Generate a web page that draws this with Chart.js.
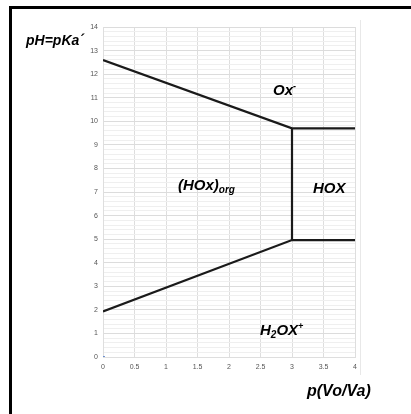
<!DOCTYPE html>
<html>
<head>
<meta charset="utf-8">
<script src="https://cdn.jsdelivr.net/npm/chart.js@4/dist/chart.umd.min.js"></script>
<style>
  html, body { margin: 0; padding: 0; background: #fff; }
  #wrap { position: relative; width: 411px; height: 414px; overflow: hidden; }
  .lbl {
    position: absolute;
    font-family: "Liberation Sans", Arial, sans-serif;
    font-weight: bold;
    font-style: italic;
    font-size: 15px;
    color: #000;
    white-space: nowrap;
    line-height: 1;
    transform: translateY(-50%);
  }
  .lbl sub { font-size: 10px; vertical-align: -3px; }
  .lbl sup { font-size: 9px; vertical-align: 6px; }
</style>
</head>
<body>
<div id="wrap">
  <canvas id="chart" width="411" height="414"></canvas>
  <div class="lbl" style="left:26px; top:40px; font-size:14px;">pH=pKa´</div>
  <div class="lbl" style="left:273px; top:89px;">Ox<sup>-</sup></div>
  <div class="lbl" style="left:178px; top:186px;">(HOx)<sub>org</sub></div>
  <div class="lbl" style="left:313px; top:187px;">HOX</div>
  <div class="lbl" style="left:260px; top:331px;">H<sub>2</sub>OX<sup>+</sup></div>
  <div class="lbl" style="left:307px; top:391px; font-size:16px;">p(Vo/Va)</div>
</div>
<script>
// boundary lines of the diagram
const upperX = [0, 3, 4];
const upperY = [12.6, 9.7, 9.7];
const lowerX = [0, 3, 4];
const lowerY = [1.93, 4.96, 4.96];
const wallX = [3, 3];
const wallY = [9.7, 4.96];
const originX = [0];
const originY = [0];

const xTicks = [0, 0.5, 1, 1.5, 2, 2.5, 3, 3.5, 4];
const yMin = 0;
const yMax = 14;

const toPoints = (xs, ys) => xs.map((x, i) => ({ x, y: ys[i] }));
const isWhole = (v) => Math.abs(v - Math.round(v)) < 1e-6;

const lineStyle = {
  borderColor: "#1a1a1a",
  borderWidth: 2.2,
  pointRadius: 0,
  showLine: true,
  fill: false,
  tension: 0,
};

const tickFont = { family: "Liberation Sans", size: 7 };

// frame drawn around the picture, plus the faint plot-area edge
const framePlugin = {
  id: "frame",
  afterDraw(chart) {
    const ctx = chart.ctx;
    ctx.save();
    ctx.strokeStyle = "#e8e8e8";
    ctx.lineWidth = 1;
    ctx.beginPath();
    ctx.moveTo(360.5, 20);
    ctx.lineTo(360.5, 375);
    ctx.stroke();
    ctx.strokeStyle = "#000";
    ctx.lineWidth = 3;
    ctx.beginPath();
    ctx.moveTo(10.5, 414);
    ctx.lineTo(10.5, 7.5);
    ctx.lineTo(411, 7.5);
    ctx.stroke();
    ctx.restore();
  },
};

new Chart(document.getElementById("chart").getContext("2d"), {
  type: "scatter",
  data: {
    datasets: [
      { data: toPoints(upperX, upperY), ...lineStyle },
      { data: toPoints(lowerX, lowerY), ...lineStyle },
      { data: toPoints(wallX, wallY), ...lineStyle },
      {
        data: toPoints(originX, originY),
        pointRadius: 2,
        pointStyle: "line",
        borderWidth: 1.5,
        pointBackgroundColor: "#4472c4",
        pointBorderColor: "#4472c4",
        showLine: false,
      },
    ],
  },
  options: {
    responsive: false,
    animation: false,
    devicePixelRatio: 1,
    layout: { padding: { left: 0, top: 27, right: 56, bottom: 0 } },
    plugins: {
      legend: { display: false },
      tooltip: { enabled: false },
    },
    scales: {
      x: {
        type: "linear",
        min: 0,
        max: 4,
        afterBuildTicks: (axis) => {
          axis.ticks = xTicks.map((v) => ({ value: v }));
        },
        afterFit: (axis) => {
          axis.height = 57;
        },
        grid: { color: "#dedede", lineWidth: 1, drawTicks: false },
        border: { color: "#dedede" },
        ticks: {
          padding: 6,
          color: "#555",
          font: tickFont,
          maxRotation: 0,
          autoSkip: false,
          callback: (v) => String(v),
        },
      },
      y: {
        type: "linear",
        min: yMin,
        max: yMax,
        afterFit: (axis) => {
          axis.width = 103;
        },
        grid: {
          color: (c) => (c.tick && isWhole(c.tick.value) ? "#dcdcdc" : "#efefef"),
          lineWidth: 1,
          drawTicks: false,
        },
        border: { color: "#dedede" },
        ticks: {
          stepSize: 0.2,
          autoSkip: false,
          padding: 5,
          color: "#555",
          font: tickFont,
          callback: (v) => (isWhole(v) ? String(Math.round(v)) : ""),
        },
      },
    },
  },
  plugins: [framePlugin],
});
</script>
</body>
</html>
